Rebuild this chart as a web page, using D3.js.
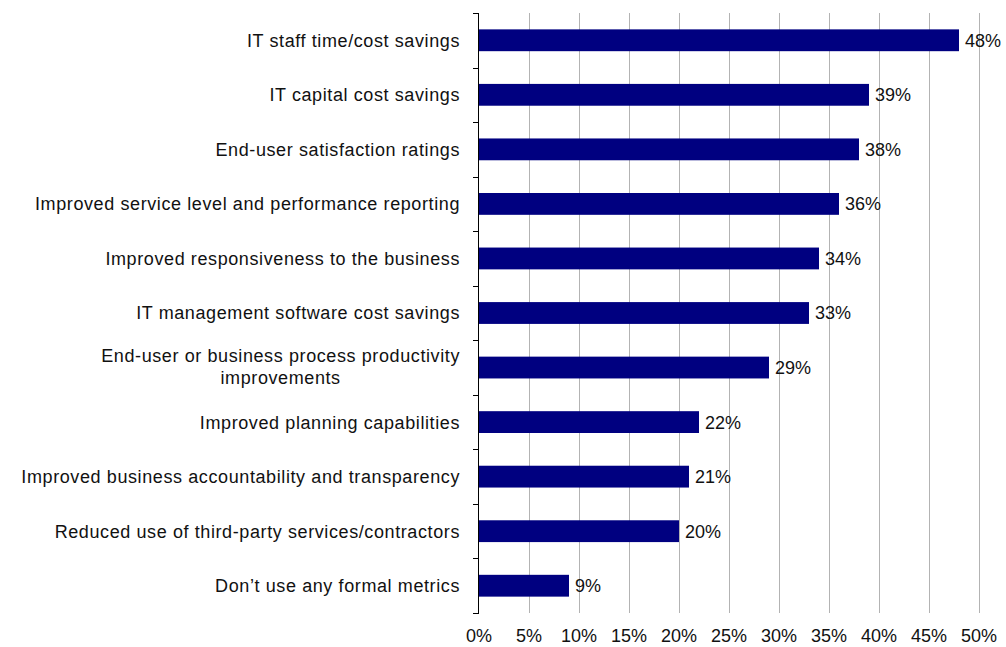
<!DOCTYPE html>
<html>
<head>
<meta charset="utf-8">
<script src="https://cdn.jsdelivr.net/npm/d3@7"></script>
<style>
	html, body { margin: 0; padding: 0; background: #fff; }
	svg { display: block; font-family: "Liberation Sans", Arial, sans-serif; }
	.grid line { stroke: #b3b3b3; stroke-width: 1; }
	.axis path, .axis line { stroke: #000; shape-rendering: crispEdges; }
	text { fill: #111; font-size: 18px; }
	.cat text { letter-spacing: 0.6px; }
</style>
</head>
<body>
<div id="chart"></div>
<script>
const categories = [
	"IT staff time/cost savings",
	"IT capital cost savings",
	"End-user satisfaction ratings",
	"Improved service level and performance reporting",
	"Improved responsiveness to the business",
	"IT management software cost savings",
	"End-user or business process productivity|improvements",
	"Improved planning capabilities",
	"Improved business accountability and transparency",
	"Reduced use of third-party services/contractors",
	"Don\u2019t use any formal metrics"
];
const values = [48, 39, 38, 36, 34, 33, 29, 22, 21, 20, 9];
const xTicks = [0, 5, 10, 15, 20, 25, 30, 35, 40, 45, 50];

const width = 1006, height = 647;
const margin = { top: 13, right: 27, bottom: 34, left: 479 };

const svg = d3.select('#chart').append('svg')
	.attr('width', width)
	.attr('height', height);

const x = d3.scaleLinear()
	.domain([0, 50])
	.range([margin.left, width - margin.right]);

const y = d3.scaleBand()
	.domain(d3.range(categories.length))
	.range([margin.top, height - margin.bottom])
	.paddingInner(0.6)
	.paddingOuter(0.3);

const step = y.step();

// vertical gridlines
svg.append('g')
	.attr('class', 'grid')
	.selectAll('line')
	.data(xTicks.filter(d => d > 0))
	.join('line')
	.attr('x1', d => Math.round(x(d)) + 0.5)
	.attr('x2', d => Math.round(x(d)) + 0.5)
	.attr('y1', margin.top)
	.attr('y2', height - margin.bottom);

// bars
svg.append('g')
	.selectAll('rect')
	.data(values)
	.join('rect')
	.attr('x', x(0))
	.attr('y', (d, i) => y(i))
	.attr('width', d => x(d) - x(0))
	.attr('height', y.bandwidth())
	.attr('fill', '#000080');

// value labels
svg.append('g')
	.selectAll('text')
	.data(values)
	.join('text')
	.attr('x', d => x(d) + 6)
	.attr('y', (d, i) => y(i) + y.bandwidth() / 2)
	.attr('dy', '0.36em')
	.text(d => d + '%');

// left axis with ticks at category boundaries
const yAxis = svg.append('g').attr('class', 'axis');
yAxis.append('line')
	.attr('x1', x(0) - 0.5).attr('x2', x(0) - 0.5)
	.attr('y1', margin.top).attr('y2', height - margin.bottom);
yAxis.selectAll('line.tick')
	.data(d3.range(categories.length + 1))
	.join('line')
	.attr('class', 'tick')
	.attr('x1', x(0) - 6).attr('x2', x(0))
	.attr('y1', i => Math.round(margin.top + i * step) + 0.5)
	.attr('y2', i => Math.round(margin.top + i * step) + 0.5);

// category labels
const labels = svg.append('g')
	.attr('class', 'cat')
	.selectAll('text')
	.data(categories)
	.join('text')
	.attr('y', (d, i) => y(i) + y.bandwidth() / 2)
	.attr('dy', '0.36em');

labels.each(function (d) {
	const el = d3.select(this);
	const lines = d.split('|');
	if (lines.length === 1) {
		el.attr('x', x(0) - 19).attr('text-anchor', 'end').text(d);
	} else {
		// two-line label, centered block right-aligned
		el.attr('text-anchor', 'middle');
		const tmp = el.append('tspan').text(lines[0]);
		const w = tmp.node().getComputedTextLength();
		tmp.remove();
		const cx = x(0) - 19 - w / 2;
		lines.forEach((t, k) => {
			el.append('tspan')
				.attr('x', cx)
				.attr('dy', k === 0 ? '-0.3em' : '1.2em')
				.text(t);
		});
	}
});

// x tick labels
svg.append('g')
	.selectAll('text')
	.data(xTicks)
	.join('text')
	.attr('x', d => x(d))
	.attr('y', height - 5)
	.attr('text-anchor', 'middle')
	.text(d => d + '%');
</script>
</body>
</html>
